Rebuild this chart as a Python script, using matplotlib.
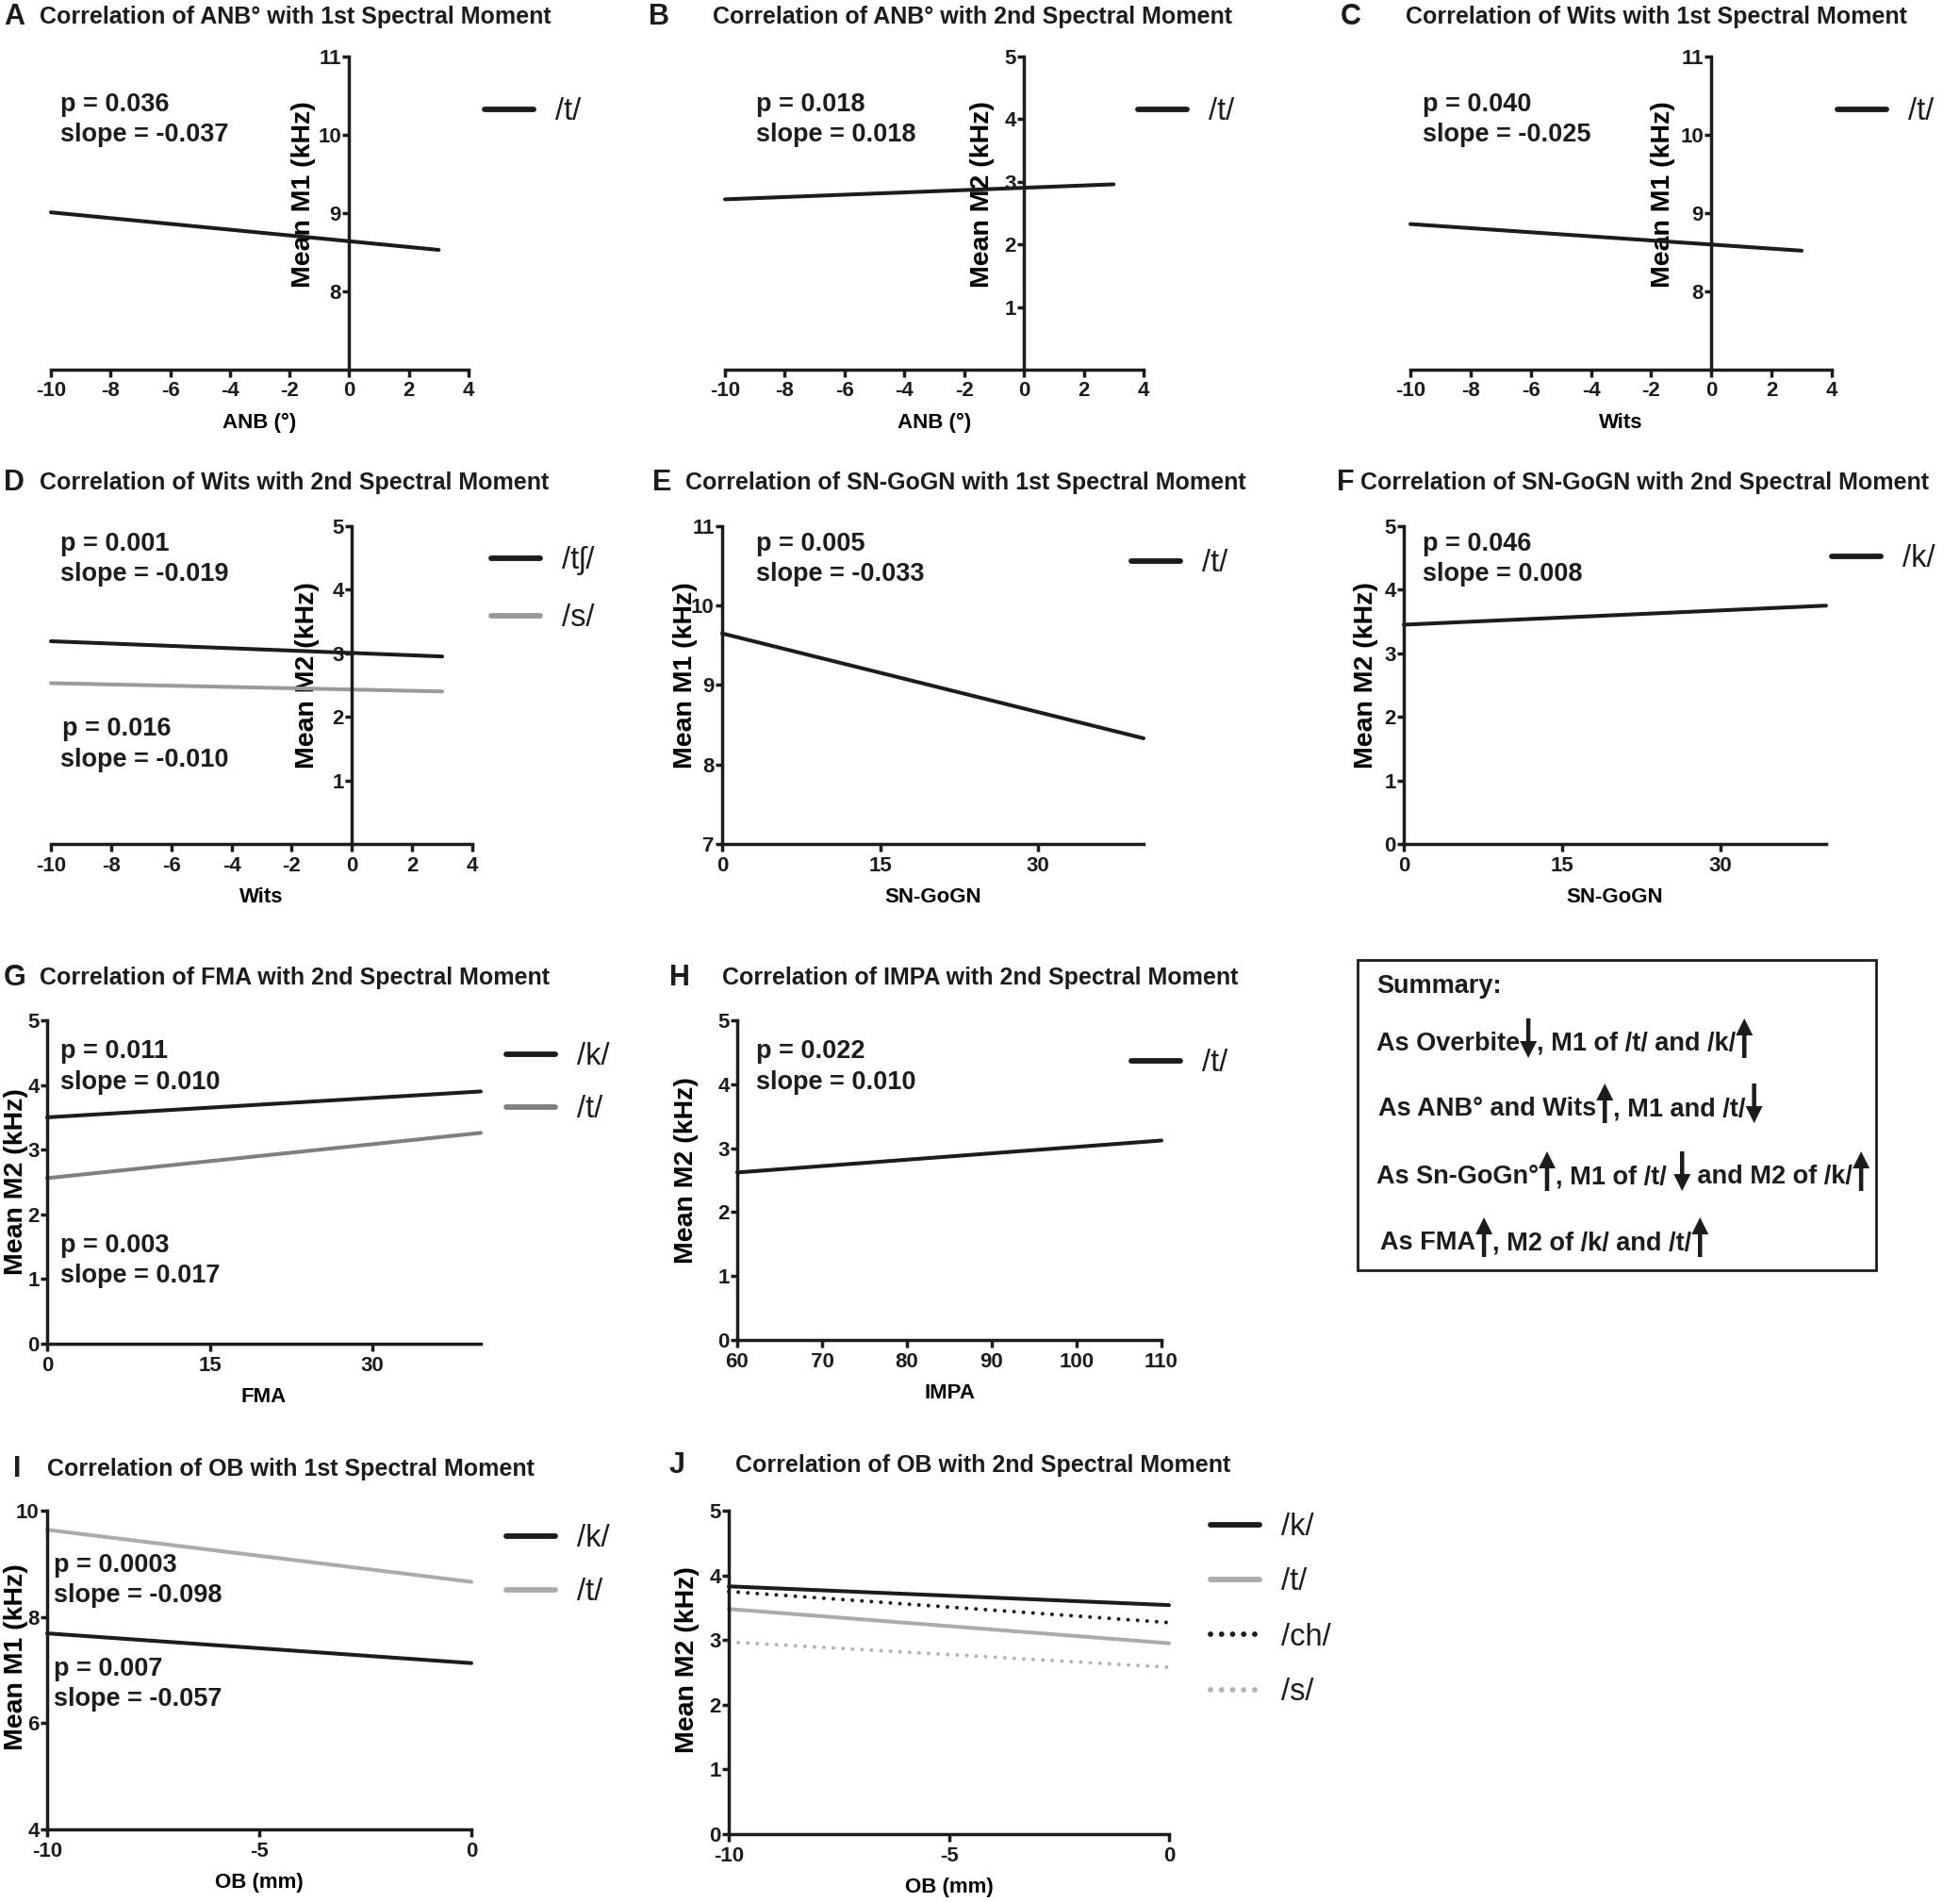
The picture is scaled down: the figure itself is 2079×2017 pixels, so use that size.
import matplotlib
matplotlib.use("Agg")
import matplotlib.pyplot as plt
from matplotlib.patches import Rectangle, FancyArrow
from matplotlib.transforms import IdentityTransform

# ---------------- data ----------------
anb_x = [-10, 3]
anb_m1_t = [9.01, 8.53]
anb_m2_t = [2.72, 2.96]

wits_x = [-10, 3]
wits_m1_t = [8.86, 8.52]
wits_m2_tsh = [3.19, 2.95]
wits_m2_s = [2.53, 2.40]

sngogn_x = [0, 40]
sngogn_m1_t = [9.65, 8.33]
sngogn_m2_k = [3.45, 3.75]

fma_x = [0, 40]
fma_m2_k = [3.50, 3.90]
fma_m2_t = [2.56, 3.26]

impa_x = [60, 110]
impa_m2_t = [2.62, 3.12]

ob_x = [-10, 0]
ob_m1_k = [7.69, 7.13]
ob_m1_t = [9.64, 8.66]
ob_m2_k = [3.83, 3.54]
ob_m2_t = [3.48, 2.95]
ob_m2_ch = [3.75, 3.27]
ob_m2_s = [2.97, 2.58]

x_ticks_anb = [-10, -8, -6, -4, -2, 0, 2, 4]
x_ticks_deg = [0, 15, 30]
x_ticks_impa = [60, 70, 80, 90, 100, 110]
x_ticks_ob = [-10, -5, 0]
y_ticks_m1 = [8, 9, 10, 11]
y_ticks_m1_full = [7, 8, 9, 10, 11]
y_ticks_m2 = [1, 2, 3, 4, 5]
y_ticks_m2_full = [0, 1, 2, 3, 4, 5]
y_ticks_ob_m1 = [4, 6, 8, 10]

# ---------------- style ----------------
W, H, DPI = 2079, 2017, 100
FONT = ["Liberation Sans", "DejaVu Sans"]
plt.rcParams["font.family"] = FONT
plt.rcParams["font.weight"] = "bold"
plt.rcParams["axes.unicode_minus"] = False
DARK = "#1c1c1c"
GREY_D = "#9a9a9a"
GREY_G = "#7f7f7f"
GREY_L = "#ababab"
GREY_S = "#b4b4b4"
plt.rcParams["text.color"] = DARK

fig = plt.figure(figsize=(W / DPI, H / DPI), dpi=DPI)

LW = 2.9
TITLE_FS = 18
ANN_FS = 19.5
TICK_FS = 16
XLAB_FS = 16
YLAB_FS = 20.5
LEG_FS = 23.5
SUM_FS = 19.5
DOTS = (0, (0.01, 2.5))
DOTS_LEG = (0, (0.01, 2.0))


def fx(x):
    return x / W


def fy(y):
    return 1 - y / H


def panel(rect, xlim, xticks, ylim, yticks, xlabel, ylabel, ylab_x, cross0=False, ylab_y=0.53):
    left, right, top, bottom = rect
    ax = fig.add_axes([left / W, 1 - bottom / H, (right - left) / W, (bottom - top) / H])
    ax.set_xlim(xlim)
    ax.set_ylim(ylim)
    ax.set_xticks(xticks)
    ax.set_yticks(yticks)
    for s in ["top", "right"]:
        ax.spines[s].set_visible(False)
    for s in ["left", "bottom"]:
        ax.spines[s].set_linewidth(2.5)
        ax.spines[s].set_color(DARK)
    if cross0:
        ax.spines["left"].set_position(("data", 0))
    ax.tick_params(axis="x", length=6, width=2.5, color=DARK, labelsize=TICK_FS, pad=3, labelcolor=DARK)
    ax.tick_params(axis="y", length=5, width=2.5, color=DARK, labelsize=TICK_FS, pad=1, labelcolor=DARK)
    ax.set_xlabel(xlabel, fontsize=XLAB_FS, fontweight="bold", labelpad=9)
    ax.set_ylabel(ylabel, fontsize=YLAB_FS, fontweight="bold", va="center")
    ax.yaxis.set_label_coords((ylab_x - left) / (right - left), ylab_y)
    ax.patch.set_visible(False)
    return ax


def title(letter, lx, tx, y, text):
    fig.text(fx(lx), fy(y), letter, fontsize=22, fontweight="bold",
             va="center", ha="left")
    fig.text(fx(tx), fy(y), text, fontsize=TITLE_FS, fontweight="bold", va="center", ha="left")


def ann(x, y, text):
    fig.text(fx(x), fy(y + 4), text, fontsize=ANN_FS, fontweight="bold", va="center", ha="left")


def legend(ax, handles, labels, x, y, spacing=0.8):
    leg = ax.legend(handles, labels, loc="upper left", bbox_to_anchor=(fx(x), fy(y - 12)),
                    bbox_transform=fig.transFigure, frameon=False,
                    prop=dict(family=FONT, weight="normal", size=LEG_FS),
                    handlelength=1.6, handletextpad=0.7, labelspacing=spacing,
                    borderpad=0, borderaxespad=0)
    for ln, h in zip(leg.get_lines(), handles):
        ln.set_linewidth(4.2)
        ln.set_solid_capstyle("round")
        if h.get_linestyle() != "-":
            ln.set_linestyle(DOTS_LEG)
            ln.set_dash_capstyle("round")
    for t in leg.get_texts():
        t.set_color(DARK)
    return leg


def line(ax, x, y, color, dotted=False):
    kw = dict(color=color, lw=LW, clip_on=False, solid_capstyle="round")
    if dotted:
        kw.update(linestyle=DOTS, dash_capstyle="round")
    return ax.plot(x, y, **kw)[0]


# ---------------- Row 1 ----------------
title("A", 4, 42, 18, "Correlation of ANB\u00b0 with 1st Spectral Moment")
ax = panel((54, 497, 60, 392), (-10, 4), x_ticks_anb, (7, 11), y_ticks_m1,
           "ANB (\u00b0)", "Mean M1 (kHz)", 322, cross0=True, ylab_y=0.56)
l1 = line(ax, anb_x, anb_m1_t, DARK)
legend(ax, [l1], ["/t/"], 514, 115)
ann(64, 107, "p = 0.036")
ann(64, 139, "slope = -0.037")

title("B", 688, 756, 18, "Correlation of ANB\u00b0 with 2nd Spectral Moment")
ax = panel((769, 1213, 60, 392), (-10, 4), x_ticks_anb, (0, 5), y_ticks_m2,
           "ANB (\u00b0)", "Mean M2 (kHz)", 1042, cross0=True, ylab_y=0.56)
l1 = line(ax, anb_x, anb_m2_t, DARK)
legend(ax, [l1], ["/t/"], 1207, 115)
ann(802, 107, "p = 0.018")
ann(802, 139, "slope = 0.018")

title("C", 1422, 1491, 18, "Correlation of Wits with 1st Spectral Moment")
ax = panel((1496, 1943, 60, 392), (-10, 4), x_ticks_anb, (7, 11), y_ticks_m1,
           "Wits", "Mean M1 (kHz)", 1764, cross0=True, ylab_y=0.56)
l1 = line(ax, wits_x, wits_m1_t, DARK)
legend(ax, [l1], ["/t/"], 1949, 115)
ann(1509, 107, "p = 0.040")
ann(1509, 139, "slope = -0.025")

# ---------------- Row 2 ----------------
title("D", 4, 42, 512, "Correlation of Wits with 2nd Spectral Moment")
ax = panel((54, 501, 558, 895), (-10, 4), x_ticks_anb, (0, 5), y_ticks_m2,
           "Wits", "Mean M2 (kHz)", 326, cross0=True, ylab_y=0.53)
l1 = line(ax, wits_x, wits_m2_tsh, DARK)
l2 = line(ax, wits_x, wits_m2_s, GREY_D)
legend(ax, [l1, l2], ["/t\u0283/", "/s/"], 521, 591, spacing=0.92)
ann(64, 573, "p = 0.001")
ann(64, 605, "slope = -0.019")
ann(66, 769, "p = 0.016")
ann(64, 802, "slope = -0.010")

title("E", 692, 727, 512, "Correlation of SN-GoGN with 1st Spectral Moment")
ax = panel((766, 1213, 558, 895), (0, 40), x_ticks_deg, (7, 11), y_ticks_m1_full,
           "SN-GoGN", "Mean M1 (kHz)", 727, ylab_y=0.53)
l1 = line(ax, sngogn_x, sngogn_m1_t, DARK)
legend(ax, [l1], ["/t/"], 1200, 594)
ann(802, 573, "p = 0.005")
ann(802, 605, "slope = -0.033")

title("F", 1418, 1443, 512, "Correlation of SN-GoGN with 2nd Spectral Moment")
ax = panel((1489, 1937, 558, 895), (0, 40), x_ticks_deg, (0, 5), y_ticks_m2_full,
           "SN-GoGN", "Mean M2 (kHz)", 1449, ylab_y=0.53)
l1 = line(ax, sngogn_x, sngogn_m2_k, DARK)
legend(ax, [l1], ["/k/"], 1943, 589)
ann(1509, 573, "p = 0.046")
ann(1509, 605, "slope = 0.008")

# ---------------- Row 3 ----------------
title("G", 4, 42, 1037, "Correlation of FMA with 2nd Spectral Moment")
ax = panel((50, 510, 1082, 1425), (0, 40), x_ticks_deg, (0, 5), y_ticks_m2_full,
           "FMA", "Mean M2 (kHz)", 17, ylab_y=0.5)
l1 = line(ax, fma_x, fma_m2_k, DARK)
l2 = line(ax, fma_x, fma_m2_t, GREY_G)
legend(ax, [l1, l2], ["/k/", "/t/"], 537, 1117, spacing=0.78)
ann(64, 1111, "p = 0.011")
ann(64, 1144, "slope = 0.010")
ann(64, 1317, "p = 0.003")
ann(64, 1349, "slope = 0.017")

title("H", 710, 766, 1037, "Correlation of IMPA with 2nd Spectral Moment")
ax = panel((782, 1232, 1082, 1421), (60, 110), x_ticks_impa, (0, 5), y_ticks_m2_full,
           "IMPA", "Mean M2 (kHz)", 728, ylab_y=0.53)
l1 = line(ax, impa_x, impa_m2_t, DARK)
legend(ax, [l1], ["/t/"], 1200, 1124)
ann(802, 1111, "p = 0.022")
ann(802, 1144, "slope = 0.010")

# ---------------- Summary box ----------------
sx0, sx1, sy0, sy1 = 1440, 1990, 1018, 1347
fig.patches.append(Rectangle((fx(sx0), fy(sy1)), (sx1 - sx0) / W, (sy1 - sy0) / H,
                             transform=fig.transFigure, fill=False, lw=2.0, ec=DARK))
summary_lines = [
    [("t", "Summary:")],
    [("t", "As Overbite"), ("down", ""), ("t", ", M1 of /t/ and /k/"), ("up", "")],
    [("t", "As ANB\u00b0 and Wits"), ("up", ""), ("t", ", M1 and /t/"), ("down", "")],
    [("t", "As Sn-GoGn\u00b0"), ("up", ""), ("t", ", M1 of /t/ "), ("down", ""),
     ("t", " and M2 of /k/"), ("up", "")],
    [("t", "As FMA"), ("up", ""), ("t", ", M2 of /k/ and /t/"), ("up", "")],
]
summary_y = [1046, 1107, 1176, 1248, 1318]
summary_x = [1460, 1460, 1462, 1460, 1464]

renderer = fig.canvas.get_renderer()
for segs, yy, xx in zip(summary_lines, summary_y, summary_x):
    cur = xx
    for kind, s in segs:
        if kind == "t":
            t = fig.text(fx(cur), fy(yy), s, fontsize=SUM_FS, fontweight="bold",
                         va="center", ha="left")
            cur += t.get_window_extent(renderer).width
        else:
            xc = cur + 9
            ypix_top = H - (yy - 27)
            ypix_bot = H - (yy + 15)
            if kind == "up":
                start, d = ypix_bot, ypix_top - ypix_bot
            else:
                start, d = ypix_top, ypix_bot - ypix_top
            arr = FancyArrow(xc, start, 0, d, width=4.5, head_width=18, head_length=18,
                             length_includes_head=True, color=DARK, lw=0,
                             transform=IdentityTransform())
            fig.add_artist(arr)
            cur += 18

# ---------------- Row 4 ----------------
title("I", 14, 50, 1558, "Correlation of OB with 1st Spectral Moment")
ax = panel((50, 500, 1602, 1940), (-10, 0), x_ticks_ob, (4, 10), y_ticks_ob_m1,
           "OB (mm)", "Mean M1 (kHz)", 17, ylab_y=0.54)
l1 = line(ax, ob_x, ob_m1_k, DARK)
l2 = line(ax, ob_x, ob_m1_t, GREY_L)
legend(ax, [l1, l2], ["/k/", "/t/"], 537, 1628, spacing=0.8)
ann(57, 1656, "p = 0.0003")
ann(57, 1688, "slope = -0.098")
ann(57, 1766, "p = 0.007")
ann(57, 1798, "slope = -0.057")

title("J", 710, 780, 1554, "Correlation of OB with 2nd Spectral Moment")
ax = panel((773, 1240, 1602, 1945), (-10, 0), x_ticks_ob, (0, 5), y_ticks_m2_full,
           "OB (mm)", "Mean M2 (kHz)", 729, ylab_y=0.54)
l1 = line(ax, ob_x, ob_m2_k, DARK)
l2 = line(ax, ob_x, ob_m2_t, GREY_L)
l3 = line(ax, ob_x, ob_m2_ch, DARK, dotted=True)
l4 = line(ax, ob_x, ob_m2_s, GREY_S, dotted=True)
legend(ax, [l1, l2, l3, l4], ["/k/", "/t/", "/ch/", "/s/"], 1284, 1616, spacing=0.84)

fig.savefig("out.png", dpi=DPI)
